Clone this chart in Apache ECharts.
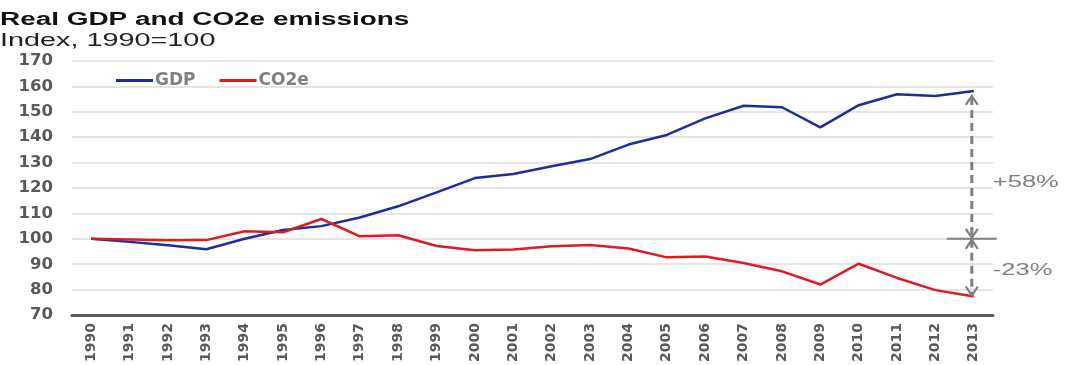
<!DOCTYPE html>
<html>
<head>
<meta charset="utf-8">
<script src="https://cdn.jsdelivr.net/npm/echarts@6/dist/echarts.min.js"></script>
<style>
html,body{margin:0;padding:0;background:#fff;}
#chart{width:1065px;height:365px;}
</style>
</head>
<body>
<div id="chart"></div>
<script>
const titleText = 'Real GDP and CO2e emissions';
const subtitleText = 'Index, 1990=100';
const years = ['1990','1991','1992','1993','1994','1995','1996','1997','1998','1999','2000','2001','2002','2003','2004','2005','2006','2007','2008','2009','2010','2011','2012','2013'];
const gdp = [100, 98.8, 97.5, 95.9, 100, 103.5, 105, 108.4, 112.8, 118.3, 123.9, 125.5, 128.6, 131.4, 137.1, 140.9, 147.4, 152.4, 151.8, 143.9, 152.6, 156.9, 156.2, 158.2];
const co2e = [100, 99.7, 99.4, 99.5, 103, 102.6, 107.8, 101, 101.4, 97.2, 95.5, 95.8, 97.1, 97.6, 96.2, 92.7, 93, 90.5, 87.2, 82, 90.2, 84.6, 79.8, 77.3];
const yMin = 70, yMax = 170, yStep = 10;
const seriesNames = ['GDP', 'CO2e'];

const chart = echarts.init(document.getElementById('chart'), null, {renderer: 'canvas'});
const axisGray = '#595959';
const labelFont = 'DejaVu Sans';

chart.setOption({
  animation: false,
  backgroundColor: '#ffffff',
  grid: {left: 72, right: 72, top: 61, bottom: 49},
  legend: {
    data: seriesNames,
    left: 111, top: 67,
    icon: 'rect', itemWidth: 37, itemHeight: 3, itemGap: 24,
    textStyle: {fontFamily: labelFont, fontWeight: 'bold', fontSize: 17, color: '#808080', padding: [0,0,0,-3]}
  },
  xAxis: {
    type: 'category', data: years, boundaryGap: true,
    axisLine: {lineStyle: {color: '#5a5a5a', width: 3}},
    axisTick: {show: false},
    axisLabel: {rotate: 90, margin: 8, fontFamily: labelFont, fontWeight: 'bold', fontSize: 14, color: axisGray, interval: 0}
  },
  yAxis: {
    type: 'value', min: yMin, max: yMax, interval: yStep,
    axisLine: {show: false}, axisTick: {show: false},
    splitLine: {lineStyle: {color: '#dcdcdc', width: 1.5}},
    axisLabel: {margin: 19, fontFamily: labelFont, fontWeight: 'bold', fontSize: 16.5, color: axisGray}
  },
  series: [
    {name: seriesNames[0], type: 'line', data: gdp, symbol: 'none', color: '#1d2c9e', lineStyle: {width: 2.5, color: '#1d2c9e'}, z: 3},
    {name: seriesNames[1], type: 'line', data: co2e, symbol: 'none', color: '#e01b1f', lineStyle: {width: 2.5, color: '#e01b1f'}, z: 3}
  ]
});

// Annotation derived from data
const last = years.length - 1;
const pTop = chart.convertToPixel({gridIndex: 0}, [years[last], gdp[last]]);
const pMid = chart.convertToPixel({gridIndex: 0}, [years[last], 100]);
const pBot = chart.convertToPixel({gridIndex: 0}, [years[last], co2e[last]]);
const gdpPct = Math.round((gdp[last] / 100 - 1) * 100);
const co2Pct = Math.round((co2e[last] / 100 - 1) * 100);
const ax = pTop[0] - 2;
const annGray = '#7f7f7f';
const topTip = pTop[1] + 5, botTip = pBot[1] - 1, mid = pMid[1];
const chev = (x, tip, dir) => ({
  type: 'polyline', silent: true, z: 10,
  shape: {points: [[x - 6, tip + dir * 9], [x, tip], [x + 6, tip + dir * 9]]},
  style: {stroke: annGray, lineWidth: 2.2, fill: null}
});
chart.setOption({
  graphic: [
    {type: 'text', x: 0, y: 11, scaleX: 1.55, z: 10,
     style: {text: titleText, font: 'bold 18px "Liberation Sans", Arial, sans-serif', fill: '#111', textVerticalAlign: 'top'}},
    {type: 'text', x: 0, y: 32, scaleX: 1.6, z: 10,
     style: {text: subtitleText, font: '18px "Liberation Sans", Arial, sans-serif', fill: '#222', textVerticalAlign: 'top'}},
    {type: 'line', silent: true, z: 10, shape: {x1: ax, y1: topTip + 1, x2: ax, y2: mid - 1},
     style: {stroke: annGray, lineWidth: 3, lineDash: [8, 5]}},
    {type: 'line', silent: true, z: 10, shape: {x1: ax, y1: mid + 1, x2: ax, y2: botTip - 1},
     style: {stroke: annGray, lineWidth: 3, lineDash: [8, 5]}},
    {type: 'line', silent: true, z: 10, shape: {x1: ax - 25, y1: mid, x2: ax + 25, y2: mid},
     style: {stroke: annGray, lineWidth: 2}},
    chev(ax, topTip, 1),
    chev(ax, mid - 1, -1),
    chev(ax, mid + 1, 1),
    chev(ax, botTip, -1),
    {type: 'text', x: ax + 21, y: (topTip + mid) / 2 + 15, scaleX: 1.5, z: 10,
     style: {text: (gdpPct >= 0 ? '+' : '') + gdpPct + '%', font: '17px "Liberation Sans", Arial, sans-serif', fill: annGray, textVerticalAlign: 'middle'}},
    {type: 'text', x: ax + 21, y: (mid + botTip) / 2 + 3, scaleX: 1.5, z: 10,
     style: {text: (co2Pct >= 0 ? '+' : '') + co2Pct + '%', font: '17px "Liberation Sans", Arial, sans-serif', fill: annGray, textVerticalAlign: 'middle'}}
  ]
});
</script>
</body>
</html>
